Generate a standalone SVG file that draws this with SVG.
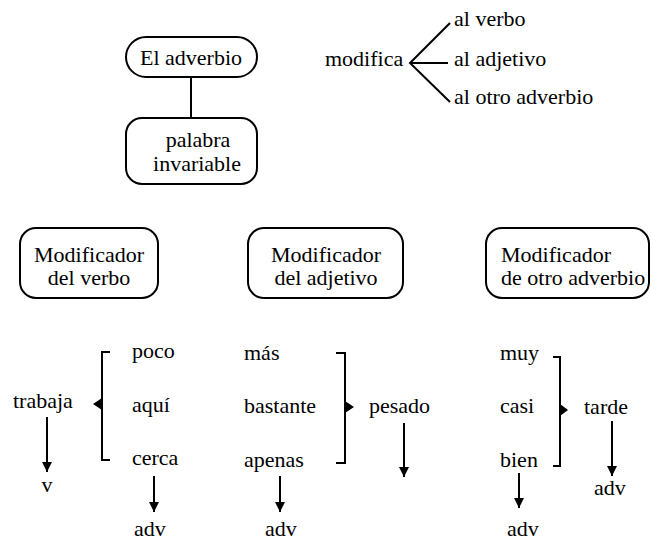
<svg xmlns="http://www.w3.org/2000/svg" width="652" height="542" viewBox="0 0 652 542">
<style>
text{font-family:'Liberation Serif','DejaVu Serif',serif;font-size:22px;fill:#000}
.box{fill:#fff;stroke:#000;stroke-width:2}
.ln{stroke:#000;stroke-width:2;fill:none}
.c{text-anchor:middle}
</style>
<defs>
<marker id="ah" viewBox="0 0 10 10" refX="10" refY="5" markerWidth="10" markerHeight="10" markerUnits="userSpaceOnUse" orient="auto"><path d="M0,0L10,5L0,10z" fill="#000"/></marker>
</defs>
<rect width="652" height="542" fill="#fff"/>
<g id="connectors">
<line class="ln" x1="191" y1="77" x2="191" y2="118"/>
<polyline class="ln" points="450,23 410,63 450,102"/>
<line class="ln" x1="410" y1="63" x2="448" y2="63"/>
<polyline class="ln" points="110,352 102,352 102,460 110,460"/>
<path d="M102,398L93,404L102,410z"/>
<line class="ln" x1="47" y1="417" x2="47" y2="472" marker-end="url(#ah)"/>
<line class="ln" x1="154" y1="476" x2="154" y2="512" marker-end="url(#ah)"/>
<polyline class="ln" points="336,353 345,353 345,463 336,463"/>
<path d="M345,401L354,407L345,413z"/>
<line class="ln" x1="404" y1="423" x2="404" y2="477" marker-end="url(#ah)"/>
<line class="ln" x1="280" y1="476" x2="280" y2="512" marker-end="url(#ah)"/>
<polyline class="ln" points="553,357 560,357 560,466 553,466"/>
<path d="M560,404L568,410L560,416z"/>
<line class="ln" x1="612" y1="421" x2="612" y2="476" marker-end="url(#ah)"/>
<line class="ln" x1="519" y1="473" x2="519" y2="508" marker-end="url(#ah)"/>
</g>
<g id="n-adverbio"><rect class="box" x="126" y="37" width="131" height="40" rx="20"/><text class="c" x="191" y="65">El adverbio</text></g>
<g id="n-palabra"><rect class="box" x="126" y="118" width="131" height="66" rx="16"/><text class="c" x="198" y="147">palabra</text><text class="c" x="197" y="171">invariable</text></g>
<g id="n-modifica"><text x="325" y="66">modifica</text></g>
<g id="n-verbo"><text x="454" y="26">al verbo</text></g>
<g id="n-adjetivo"><text x="454" y="66">al adjetivo</text></g>
<g id="n-otro"><text x="454" y="104">al otro adverbio</text></g>
<g id="n-mod-verbo"><rect class="box" x="20" y="228" width="138" height="70" rx="16"/><text class="c" x="89" y="262">Modificador</text><text class="c" x="89" y="285">del verbo</text></g>
<g id="n-mod-adj"><rect class="box" x="248" y="228" width="155" height="70" rx="16"/><text class="c" x="326" y="262">Modificador</text><text class="c" x="326" y="285">del adjetivo</text></g>
<g id="n-mod-adv"><rect class="box" x="486" y="228" width="163" height="70" rx="16"/><text x="501" y="262">Modificador</text><text x="501" y="285">de otro adverbio</text></g>
<g id="n-trabaja"><text x="13" y="408">trabaja</text></g>
<g id="n-v"><text class="c" x="47" y="492">v</text></g>
<g id="n-poco"><text x="132" y="358">poco</text></g>
<g id="n-aqui"><text x="132" y="412">aquí</text></g>
<g id="n-cerca"><text x="132" y="465">cerca</text></g>
<g id="n-adv1"><text class="c" x="150" y="536">adv</text></g>
<g id="n-mas"><text x="244" y="360">más</text></g>
<g id="n-bastante"><text x="244" y="413">bastante</text></g>
<g id="n-apenas"><text x="244" y="467">apenas</text></g>
<g id="n-pesado"><text x="369" y="413">pesado</text></g>
<g id="n-adv2"><text class="c" x="281" y="536">adv</text></g>
<g id="n-muy"><text x="500" y="360">muy</text></g>
<g id="n-casi"><text x="500" y="413">casi</text></g>
<g id="n-bien"><text x="500" y="467">bien</text></g>
<g id="n-tarde"><text x="584" y="414">tarde</text></g>
<g id="n-adv3"><text class="c" x="610" y="495">adv</text></g>
<g id="n-adv4"><text class="c" x="523" y="536">adv</text></g>
</svg>
